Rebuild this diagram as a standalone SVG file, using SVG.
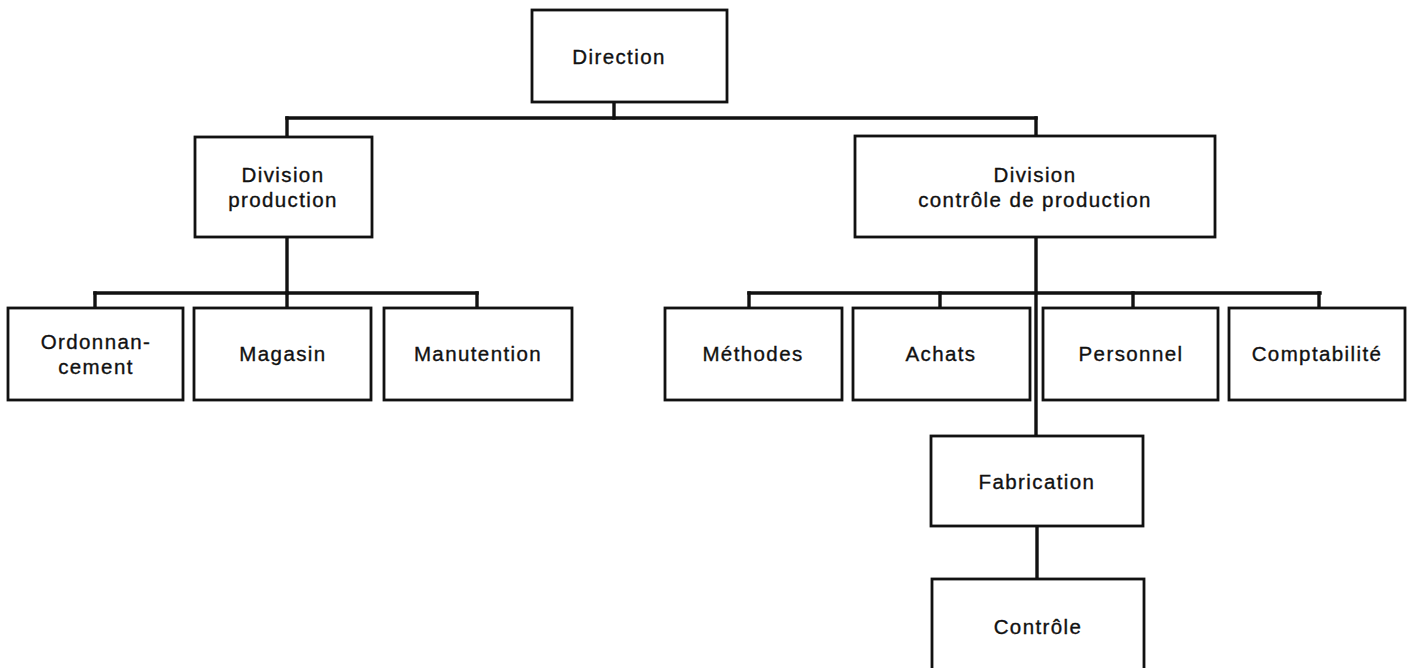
<svg xmlns="http://www.w3.org/2000/svg" width="1408" height="668" viewBox="0 0 1408 668">
  <style>
    .box { fill: #ffffff; stroke: #111111; stroke-width: 2.8; }
    .wire { fill: none; stroke: #111111; stroke-width: 3.4; stroke-linecap: square; }
    .lbl { font-family: "Liberation Sans", Arial, sans-serif; font-size: 20.5px; letter-spacing: 1.4px; fill: #111111; stroke: #111111; stroke-width: 0.35; text-anchor: middle; }
  </style>
  <rect width="1408" height="668" fill="#ffffff"/>

  <!-- connectors -->
  <g id="connectors" class="wire">
    <path d="M614 102 V118"/>
    <path d="M287 118 H1036"/>
    <path d="M287 118 V137"/>
    <path d="M1036 118 V136"/>
    <path d="M287 237 V293"/>
    <path d="M95 293 H477"/>
    <path d="M95 293 V308"/>
    <path d="M287 293 V308"/>
    <path d="M477 293 V308"/>
    <path d="M1036 237 V436"/>
    <path d="M749 293 H1320"/>
    <path d="M749 293 V308"/>
    <path d="M940 293 V308"/>
    <path d="M1133 293 V308"/>
    <path d="M1319 293 V308"/>
    <path d="M1037 526 V579"/>
  </g>

  <g id="direction">
    <rect class="box" x="532" y="10" width="195" height="92"/>
    <text class="lbl" x="619" y="64">Direction</text>
  </g>

  <g id="division-production">
    <rect class="box" x="195" y="137" width="177" height="100"/>
    <text class="lbl" x="283" y="182">Division</text>
    <text class="lbl" x="283" y="207">production</text>
  </g>

  <g id="division-controle">
    <rect class="box" x="855" y="136" width="360" height="101"/>
    <text class="lbl" x="1035" y="182">Division</text>
    <text class="lbl" x="1035" y="207">contrôle de production</text>
  </g>

  <g id="ordonnancement">
    <rect class="box" x="8" y="308" width="175" height="92"/>
    <text class="lbl" x="96" y="349">Ordonnan-</text>
    <text class="lbl" x="96" y="374">cement</text>
  </g>

  <g id="magasin">
    <rect class="box" x="194" y="308" width="177" height="92"/>
    <text class="lbl" x="283" y="361">Magasin</text>
  </g>

  <g id="manutention">
    <rect class="box" x="384" y="308" width="188" height="92"/>
    <text class="lbl" x="478" y="361">Manutention</text>
  </g>

  <g id="methodes">
    <rect class="box" x="665" y="308" width="177" height="92"/>
    <text class="lbl" x="753" y="361">Méthodes</text>
  </g>

  <g id="achats">
    <rect class="box" x="853" y="308" width="177" height="92"/>
    <text class="lbl" x="941" y="361">Achats</text>
  </g>

  <g id="personnel">
    <rect class="box" x="1043" y="308" width="175" height="92"/>
    <text class="lbl" x="1131" y="361">Personnel</text>
  </g>

  <g id="comptabilite">
    <rect class="box" x="1229" y="308" width="176" height="92"/>
    <text class="lbl" x="1317" y="361">Comptabilité</text>
  </g>

  <g id="fabrication">
    <rect class="box" x="931" y="436" width="212" height="90"/>
    <text class="lbl" x="1037" y="489">Fabrication</text>
  </g>

  <g id="controle">
    <rect class="box" x="932" y="579" width="212" height="110"/>
    <text class="lbl" x="1038" y="634">Contrôle</text>
  </g>
</svg>
